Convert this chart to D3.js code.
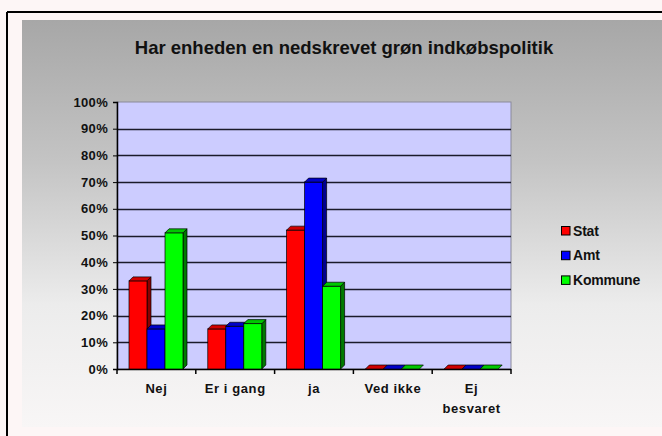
<!DOCTYPE html>
<html><head><meta charset="utf-8">
<script src="https://cdn.jsdelivr.net/npm/d3@7"></script>
<style>
html,body{margin:0;padding:0;background:#fdf6f6;}
svg{display:block;}
text{font-family:"Liberation Sans",Arial,sans-serif;font-weight:bold;fill:#111;}
</style></head>
<body>
<svg id="c" width="662" height="436"></svg>
<script>
const title = "Har enheden en nedskrevet grøn indkøbspolitik";
const categories = ["Nej", "Er i gang", "ja", "Ved ikke", "Ej besvaret"];
const categoryLines = [["Nej"], ["Er i gang"], ["ja"], ["Ved ikke"], ["Ej", "besvaret"]];
const seriesNames = ["Stat", "Amt", "Kommune"];
const stat = [33, 15, 52, 0, 0];
const amt = [15, 16, 70, 0, 0];
const kommune = [51, 17, 31, 0, 0];
const yTicks = [0, 10, 20, 30, 40, 50, 60, 70, 80, 90, 100];
const seriesValues = [stat, amt, kommune];
const front = ["#ff0000", "#0000ff", "#00ff00"];
const side = ["#8c0000", "#000090", "#007a00"];
const topc = ["#d00000", "#0000c8", "#00c800"];

const svg = d3.select("#c");
const defs = svg.append("defs");
const g1 = defs.append("linearGradient").attr("id","bg").attr("x1",0).attr("y1",0).attr("x2",0).attr("y2",1);
g1.append("stop").attr("offset","0%").attr("stop-color","#a7a7a7");
g1.append("stop").attr("offset","35%").attr("stop-color","#c4c4c4");
g1.append("stop").attr("offset","70%").attr("stop-color","#ececec");
g1.append("stop").attr("offset","100%").attr("stop-color","#f8f6f6");

// outer border (top & left visible)
svg.append("rect").attr("x",0).attr("y",0).attr("width",662).attr("height",436).attr("fill","#fdf6f6");
svg.append("line").attr("x1",7).attr("x2",662).attr("y1",12).attr("y2",12).attr("stroke","#000").attr("stroke-width",2);
svg.append("line").attr("x1",7).attr("x2",7).attr("y1",12).attr("y2",436).attr("stroke","#000").attr("stroke-width",2);
// panel
svg.append("rect").attr("x",22).attr("y",20).attr("width",640).attr("height",407).attr("fill","url(#bg)");

svg.append("text").attr("x",344).attr("y",54).attr("text-anchor","middle")
  .style("font-size","18.5px").text(title);

const L = 117, R = 511, T = 102, B = 369;
const y = d3.scaleLinear().domain([0,100]).range([B,T]);
const x0 = d3.scaleBand().domain(categories).range([L,R]);
const x1 = d3.scaleBand().domain(seriesNames).range([12,66]);

// plot area
svg.append("rect").attr("x",L).attr("y",T).attr("width",R-L).attr("height",B-T)
  .attr("fill","#ccccff").attr("stroke","#8a8a9a").attr("stroke-width",1);
// gridlines
svg.append("g").selectAll("line").data(yTicks.filter(t=>t>0 && t<100)).join("line")
  .attr("x1",L).attr("x2",R).attr("y1",d=>Math.round(y(d))+0.5).attr("y2",d=>Math.round(y(d))+0.5)
  .attr("stroke","#1a1a2a").attr("stroke-width",1.6);

// y axis
const yAxis = svg.append("g").attr("transform",`translate(${L},0)`)
  .call(d3.axisLeft(y).tickValues(yTicks).tickFormat(d=>d+"%").tickSize(4).tickPadding(5));
yAxis.select(".domain").attr("stroke","#000").attr("stroke-width",1.5);
yAxis.selectAll(".tick line").attr("stroke","#000");
yAxis.selectAll("text").style("font-size","13px").style("letter-spacing","0.3px")
  .style("font-family","'Liberation Sans',Arial,sans-serif").style("font-weight","bold").attr("fill","#111");

// x axis
const xAxis = svg.append("g").attr("transform",`translate(0,${B})`);
xAxis.append("line").attr("x1",L).attr("x2",R).attr("y1",0.5).attr("y2",0.5).attr("stroke","#000").attr("stroke-width",1.5);
const bounds = categories.map(c=>x0(c)).concat([R]);
xAxis.selectAll(".xt").data(bounds).join("line").attr("class","xt")
  .attr("x1",d=>d).attr("x2",d=>d).attr("y1",0).attr("y2",5).attr("stroke","#000").attr("stroke-width",1.5);
const xl = xAxis.selectAll(".xl").data(categories).join("text").attr("class","xl")
  .attr("x",d=>x0(d)+x0.bandwidth()/2).attr("y",24).attr("text-anchor","middle")
  .style("font-size","13px").style("letter-spacing","0.6px");
xl.each(function(d,i){
  const t = d3.select(this);
  categoryLines[i].forEach((ln,j)=>t.append("tspan").attr("x",x0(d)+x0.bandwidth()/2).attr("dy", j===0?0:20).text(ln));
});

// 3D bars
const dx = 4, dy = 4;
const bars = [];
categories.forEach((c,ci)=>seriesNames.forEach((s,si)=>bars.push({c,s,si,v:seriesValues[si][ci]})));
const bg = svg.append("g");
bars.forEach(b=>{
  const xa = x0(b.c) + x1(b.s), w = x1.bandwidth();
  const yt = y(b.v), yb = y(0);
  const grp = bg.append("g");
  if (b.v > 0) {
    grp.append("polygon").attr("points",[[xa+w,yt],[xa+w+dx,yt-dy],[xa+w+dx,yb-dy],[xa+w,yb]].join(" "))
      .attr("fill",side[b.si]).attr("stroke","#000").attr("stroke-width",0.7);
    grp.append("rect").attr("x",xa).attr("y",yt).attr("width",w).attr("height",yb-yt)
      .attr("fill",front[b.si]).attr("stroke","#000").attr("stroke-width",0.7);
  }
  grp.append("polygon").attr("points",[[xa,yt],[xa+dx,yt-dy],[xa+w+dx,yt-dy],[xa+w,yt]].join(" "))
    .attr("fill",topc[b.si]).attr("stroke","#000").attr("stroke-width",0.7);
});

// legend
const lg = svg.append("g").attr("transform","translate(561,226)");
seriesNames.forEach((s,i)=>{
  lg.append("rect").attr("x",0.5).attr("y",i*24.7+0.5).attr("width",8.5).attr("height",8.5)
    .attr("fill",front[i]).attr("stroke","#000").attr("stroke-width",1);
  lg.append("text").attr("x",12).attr("y",i*24.7+9.5).style("font-size","14px").style("letter-spacing","-0.2px").text(s);
});
</script>
</body></html>
